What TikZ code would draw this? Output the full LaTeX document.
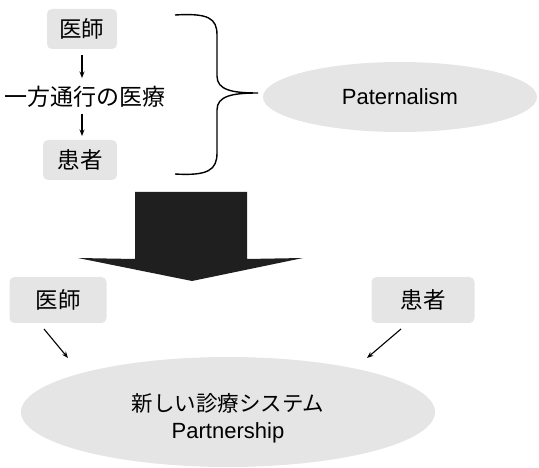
\documentclass[tikz,border=0pt]{standalone}
\usepackage{fontspec}
\setmainfont{Liberation Sans}
\newfontfamily\jp{Noto Sans CJK JP}
\usetikzlibrary{shapes.geometric,arrows.meta}
\begin{document}
\begin{tikzpicture}[x=1pt,y=-1pt,
  gbox/.style={fill=black!10,rounded corners=5pt,inner sep=0pt,font=\jp\fontsize{22.5}{26}\selectfont},
  gell/.style={ellipse,fill=black!10,inner sep=0pt},
  conn/.style={line width=1.1pt,-{Stealth[length=6.5pt,width=5pt]}}]
\useasboundingbox (0,0) rectangle (539,468);
% top group
\node[gbox,minimum width=70pt,minimum height=40pt] (d1) at (82,29) {医師};
\node[font=\jp\fontsize{23}{26}\selectfont,inner sep=0pt] (one) at (85,97) {一方通行の医療};
\node[gbox,minimum width=74pt,minimum height=40pt] (p1) at (80,160) {患者};
\coordinate (a1s) at (82,55);
\coordinate (a1e) at (82,78);
\coordinate (a2s) at (82,114);
\coordinate (a2e) at (82,136);
\draw[conn] (a1s) -- (a1e);
\draw[conn] (a2s) -- (a2e);
% brace
\coordinate (btop) at (175,15);
\coordinate (bbot) at (175,174);
\coordinate (btip) at (258,93);
\draw[line width=1.4pt] (btop) .. controls (208,13) and (217,18) .. (217,35)
  -- (217,76) .. controls (217,90) and (232,93) .. (btip)
  .. controls (232,93) and (217,96) .. (217,110)
  -- (217,153) .. controls (217,170) and (208,176) .. (bbot);
\node[gell,minimum width=274pt,minimum height=70pt,font=\fontsize{22}{26}\selectfont] (pat) at (400,97) {Paternalism};
% big arrow
\fill[black!88] (135,192) -- (247,192) -- (247,259) -- (303,258) -- (192,281) -- (78,258) -- (135,259) -- cycle;
% bottom group
\node[gbox,minimum width=97pt,minimum height=46pt] (d2) at (58,300) {医師};
\node[gbox,minimum width=103pt,minimum height=46pt] (p2) at (423,300) {患者};
\node[gell,minimum width=414pt,minimum height=110pt] (sys) at (228,412) {};
\node[align=center,inner sep=0pt,font=\fontsize{22}{27}\selectfont] (systxt) at (228,418)
  {{\jp\fontsize{21.5}{27}\selectfont 新しい診療システム}\\{\fontsize{22}{27}\selectfont Partnership}};
\coordinate (l1s) at (44,329);
\coordinate (l1e) at (68,358);
\coordinate (r1s) at (401,329);
\coordinate (r1e) at (367,358);
\draw[conn] (l1s) -- (l1e);
\draw[conn] (r1s) -- (r1e);
\end{tikzpicture}
\end{document}
